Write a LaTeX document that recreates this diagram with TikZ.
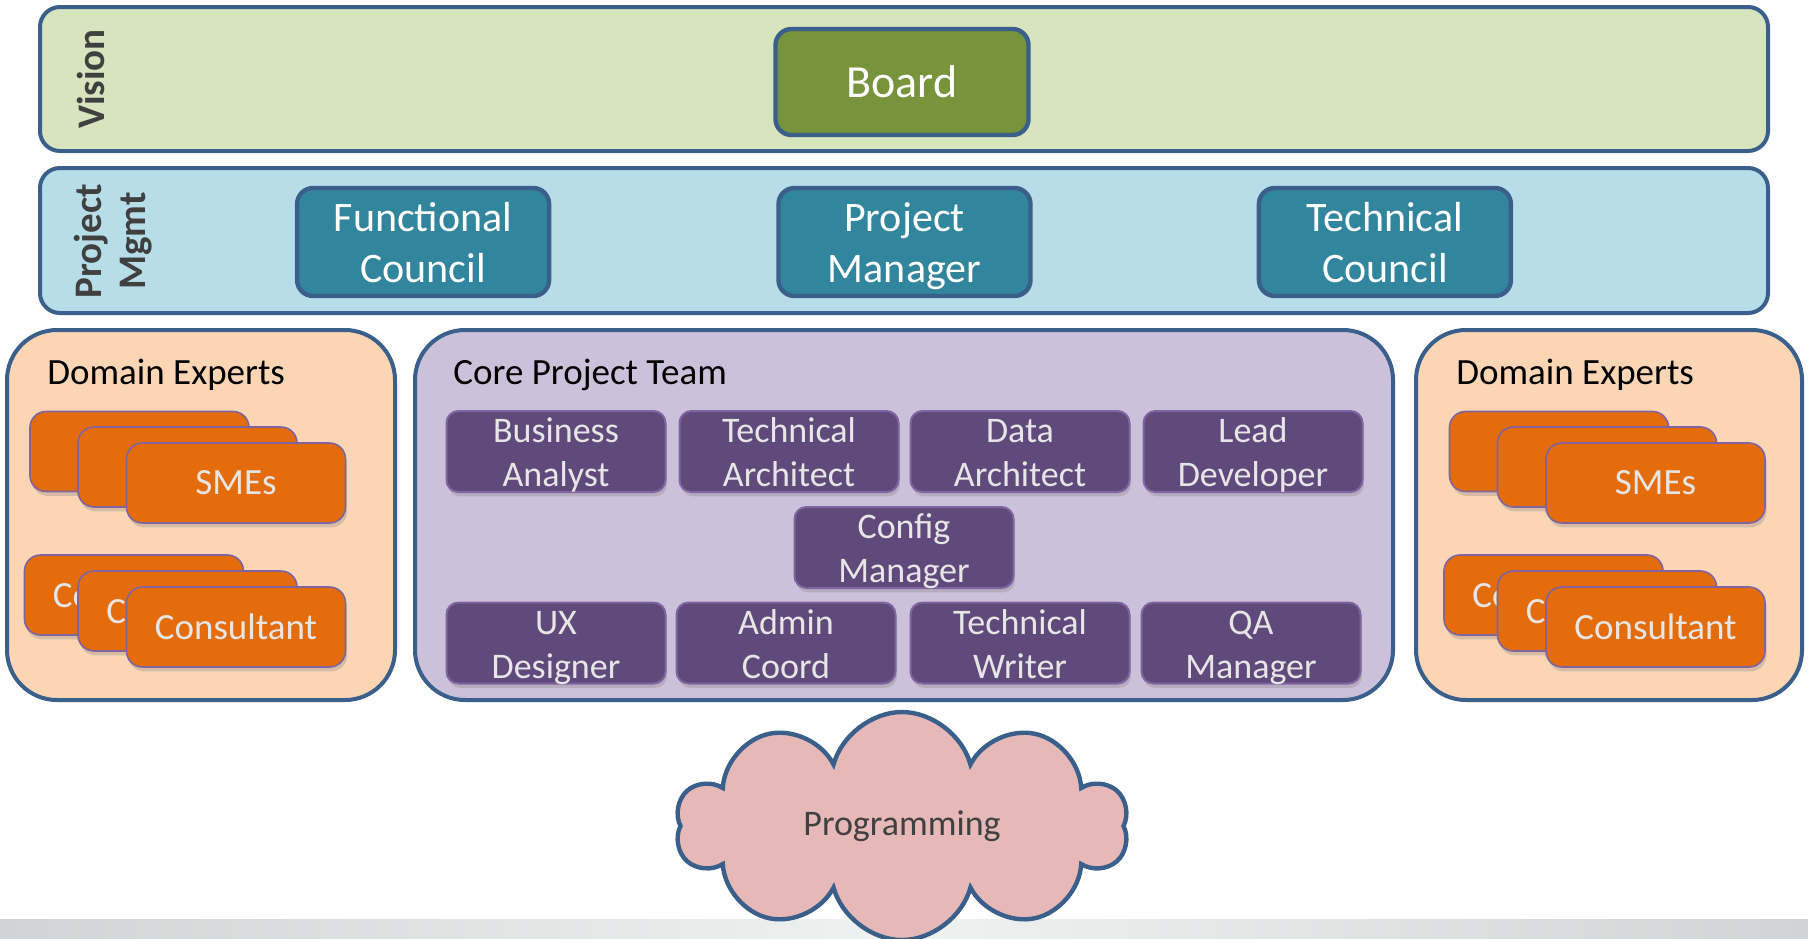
\documentclass[tikz,border=0pt]{standalone}
\usepackage{fontspec}
\setmainfont{Carlito}
\usetikzlibrary{
	positioning,
	calc,
	shapes.symbols,
	shadows,
	}

\definecolor{edgeblue}{HTML}{3A5F8B}
\definecolor{visionfill}{HTML}{D7E4BD}
\definecolor{boardfill}{HTML}{77933C}
\definecolor{mgmtfill}{HTML}{B7DEE8}
\definecolor{councilfill}{HTML}{31859C}
\definecolor{domainfill}{HTML}{FCD5B5}
\definecolor{smefill}{HTML}{E46C0A}
\definecolor{smeedge}{HTML}{7F64A0}
\definecolor{corefill}{HTML}{CCC1DA}
\definecolor{rolefill}{HTML}{604A7B}
\definecolor{roleedge}{HTML}{8064A2}
\definecolor{cloudfill}{HTML}{E6B9B8}
\definecolor{paletext}{HTML}{E6E6E6}
\definecolor{labeltext}{HTML}{404040}
\definecolor{stripdark}{HTML}{D2D3D4}
\definecolor{striplight}{HTML}{F0F1F1}

\tikzset{
	band/.style={draw=edgeblue, line width=2pt, rounded corners=10pt, minimum width=864pt, minimum height=72pt},
	panel/.style={draw=edgeblue, line width=2pt, rounded corners=25pt, minimum height=185pt},
	lbl/.style={rotate=90, inner sep=0pt, align=center, text=labeltext, font=\bfseries\fontsize{19.5}{22}\selectfont},
	paneltitle/.style={anchor=base west, inner sep=0pt, font=\fontsize{18.5}{22}\selectfont},
	council/.style={draw=edgeblue, line width=2.2pt, fill=councilfill, rounded corners=8pt, minimum width=126pt, minimum height=54pt, inner sep=0pt, align=center, text=white, font=\fontsize{21}{25.5}\selectfont, text height=40.5pt, text depth=0pt},
	role/.style={draw=roleedge, line width=1pt, fill=rolefill, rounded corners=6pt, minimum width=109.5pt, minimum height=40.5pt, inner sep=0pt, align=center, text=paletext, font=\fontsize{18}{22}\selectfont, drop shadow={shadow xshift=0.8pt, shadow yshift=-2.2pt, opacity=0.3}, text height=35pt, text depth=0pt},
	sme/.style={draw=smeedge, line width=0.8pt, fill=smefill, rounded corners=8pt, minimum width=109.5pt, minimum height=40pt, inner sep=0pt, text=paletext, font=\fontsize{18.5}{22}\selectfont, drop shadow={shadow xshift=0.8pt, shadow yshift=-2.2pt, opacity=0.3}},
}

\begin{document}
\begin{tikzpicture}[x=0.5pt, y=-0.5pt]
	\useasboundingbox[fill=white] (0,0) rectangle (1808,938);
	\shade[left color=stripdark, right color=stripdark, middle color=striplight] (0,919) rectangle (1808,938);

	% top two bands
	\node[band, fill=visionfill] (vision) at (904,79) {};
	\node[band, fill=mgmtfill, minimum height=72.5pt] (mgmt) at (904,240.5) {};
	\node[lbl] (visionlbl) at (91,79) {Vision};
	\node[lbl] (mgmtlbl) at (113,241) {Project\\Mgmt};
	\node[draw=edgeblue, line width=2.2pt, fill=boardfill, rounded corners=8pt, minimum width=126.5pt, minimum height=53pt, text=white, font=\fontsize{23}{28}\selectfont] (board) at (902,82) {Board};
	\node[council] (pmgr) at (904.5,242) {Project\\Manager};
	\node[council, left=112.5pt of pmgr] (fcouncil) {Functional\\Council};
	\node[council, right=112pt of pmgr] (tcouncil) {Technical\\Council};

	% three panels
	\node[panel, fill=domainfill, minimum width=194pt] (domL) at (201,515) {};
	\node[panel, fill=corefill, minimum width=489pt, right=8pt of domL] (core) {};
	\node[panel, fill=domainfill, minimum width=193pt, right=9.5pt of core] (domR) {};
	\node[paneltitle] (domLtitle) at (47,384) {Domain Experts};
	\node[paneltitle] (coretitle) at (453,384) {Core Project Team};
	\node[paneltitle] (domRtitle) at (1456,384) {Domain Experts};

	% stacks on the left
	\node[sme] (smeL1) at (139.5,451.5) {SMEs};
	\node[sme] (smeL2) at ($(smeL1)+(48,15.5)$) {SMEs};
	\node[sme] (smeL3) at ($(smeL2)+(48.5,16)$) {SMEs};
	\node[sme] (conL1) at (134,595) {Consultant};
	\node[sme] (conL2) at ($(conL1)+(53.5,16)$) {Consultant};
	\node[sme] (conL3) at ($(conL2)+(48.5,16)$) {Consultant};

	% stacks on the right
	\node[sme] (smeR1) at (1559,451.5) {SMEs};
	\node[sme] (smeR2) at ($(smeR1)+(48,15.5)$) {SMEs};
	\node[sme] (smeR3) at ($(smeR2)+(48.5,16)$) {SMEs};
	\node[sme] (conR1) at (1553.5,595) {Consultant};
	\node[sme] (conR2) at ($(conR1)+(53.5,16)$) {Consultant};
	\node[sme] (conR3) at ($(conR2)+(48.5,16)$) {Consultant};

	% core team roles
	\node[role] (ba) at (556,451.5) {Business\\Analyst};
	\node[role, right=6pt of ba] (ta) {Technical\\Architect};
	\node[role, right=5pt of ta] (da) {Data\\Architect};
	\node[role, right=6pt of da] (ld) {Lead\\Developer};
	\node[role] (cm) at (904,547.5) {Config\\Manager};
	\node[role] (ux) at (556,643) {UX\\Designer};
	\node[role, right=4.5pt of ux] (ac) {Admin\\Coord};
	\node[role, right=6.5pt of ac] (tw) {Technical\\Writer};
	\node[role, right=5pt of tw] (qa) {QA\\Manager};

	\node[cloud, cloud puffs=10, aspect=2, draw=edgeblue, line width=2.2pt, fill=cloudfill, minimum width=226pt, minimum height=114pt, text=labeltext, font=\fontsize{18}{22}\selectfont] (prog) at (902,826) {Programming};
\end{tikzpicture}
\end{document}
